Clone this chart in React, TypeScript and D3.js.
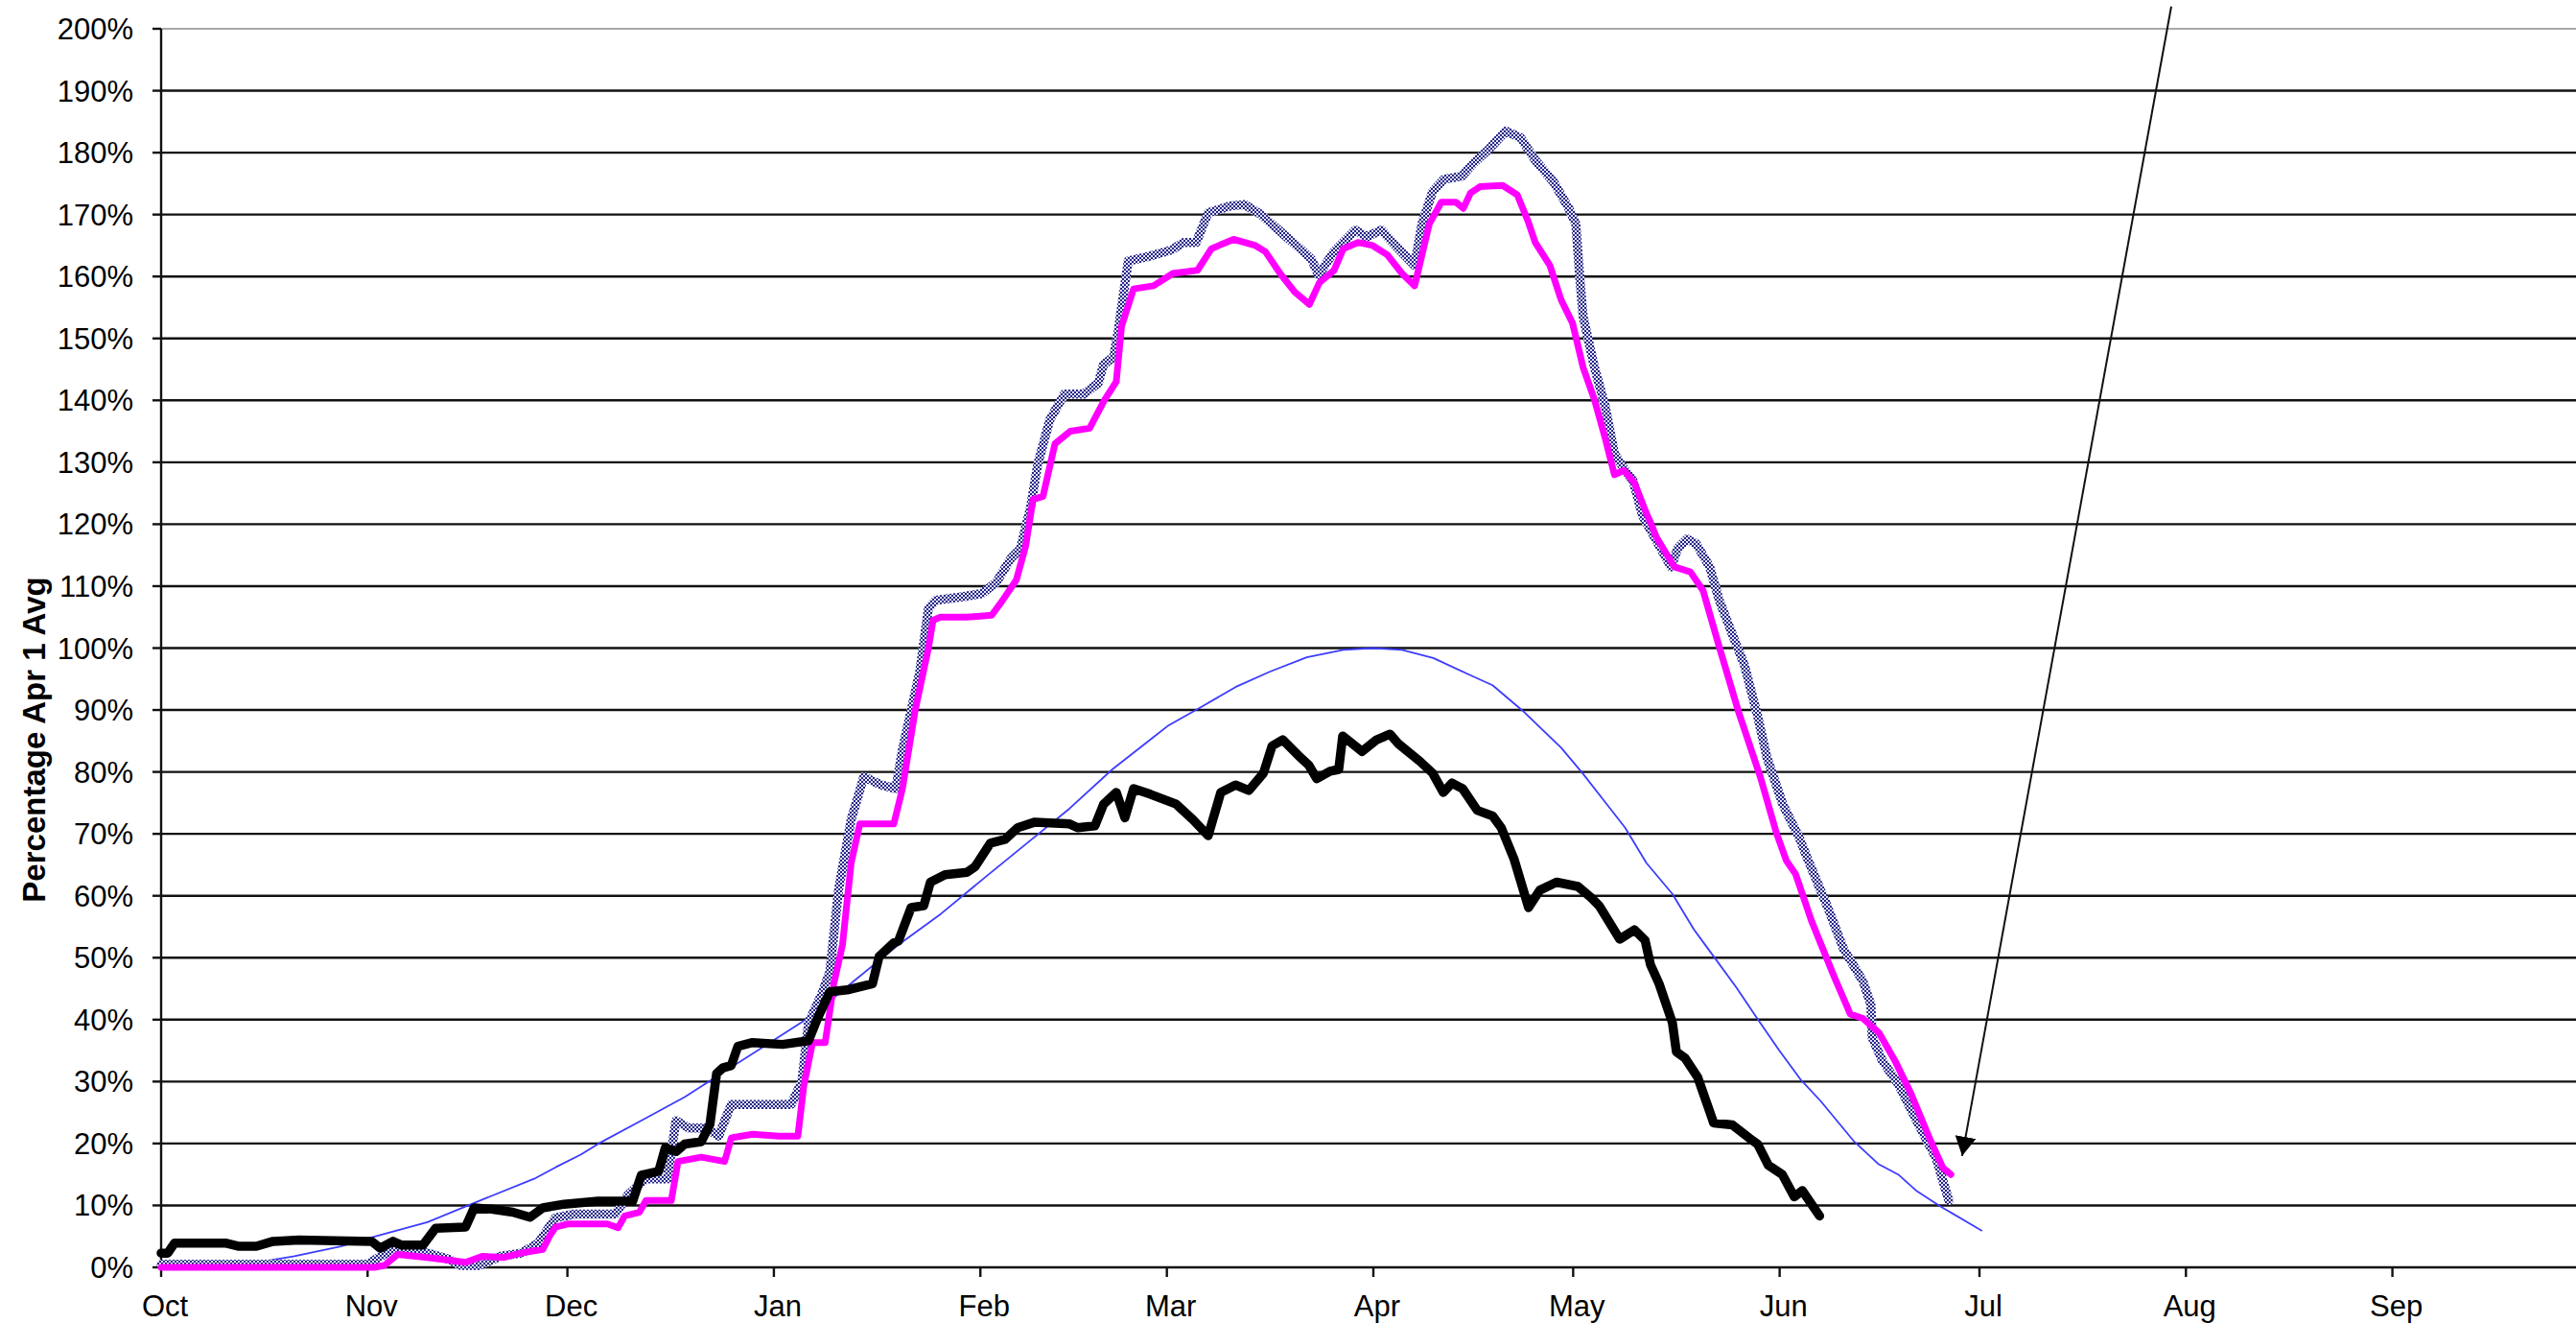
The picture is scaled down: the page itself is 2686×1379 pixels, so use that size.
import React from 'react';
import * as d3 from 'd3';

const WIDTH = 2686;
const HEIGHT = 1379;

// Month ticks: day offset from Oct 1
const monthLabels = ['Oct', 'Nov', 'Dec', 'Jan', 'Feb', 'Mar', 'Apr', 'May', 'Jun', 'Jul', 'Aug', 'Sep'];
const monthStartDays = [0, 31, 61, 92, 123, 151, 182, 212, 243, 273, 304, 335];
const yTickValues = d3.range(0, 201, 10);
const yAxisTitle = 'Percentage Apr 1 Avg';

// [day since Oct 1, percent of Apr 1 average]
const averageSeries: [number, number][] = [
  [0, 0], [10, 0.2], [15.5, 1], [20, 1.8], [27, 3.4], [32.2, 5], [40, 7.3], [47, 10.4], [56, 14.3], [59.3, 16.2],
  [63, 18.2], [65.7, 20], [72.1, 23.7], [78.6, 27.5], [85, 31.9], [91.4, 36.3], [97.8, 40.7], [104.2, 46.4],
  [110.7, 52.1], [117.1, 57.1], [123.5, 62.8], [130, 68.5], [136.4, 74.1], [142.8, 80.4], [148.5, 85.2],
  [151.1, 87.4], [156.2, 90.5], [161.3, 93.7], [166.5, 96.2], [172, 98.5], [177.5, 99.7], [182, 100],
  [186.3, 99.7], [191, 98.4], [196, 95.9], [199.9, 94], [204.4, 89.9], [210.2, 83.9], [213.4, 79.8],
  [216.6, 75.4], [219.8, 71], [223, 65.3], [226.9, 60.3], [230.1, 54.6], [233.3, 49.9], [236.5, 45.2],
  [239.7, 40.1], [242.9, 35.1], [246.1, 30.4], [249.2, 26.8], [254.2, 20.3], [257.8, 16.7], [260.8, 15],
  [263.6, 12.3], [267.2, 9.8], [273.4, 5.9],
];

const hatchedSeries: [number, number][] = [
  [0, 0.5], [31, 0.5], [32.2, 1.3], [34.8, 2.9], [40, 2.3], [43.2, 1.3], [45, 0.3], [47.7, 0.3], [50.9, 1.8],
  [54.1, 2.3], [56.6, 3.9], [59.2, 8], [62, 8.6], [68.2, 8.6], [70.1, 11.7], [72.8, 14.3], [76, 14.3],
  [77.3, 23.7], [79.2, 22.5], [81.8, 22.5], [83.7, 21.2], [85.6, 26.3], [88.2, 26.3], [94.6, 26.3],
  [96.2, 30], [97.2, 39.5], [99.1, 43.9], [100.4, 47.7], [101.7, 60.9], [103.6, 72.3], [105.5, 79.2],
  [108.1, 77.9], [110.3, 77.3], [111.3, 83.6], [112.6, 89.9], [113.9, 96.2], [115.2, 106.4], [116.3, 107.7],
  [120.3, 108.3], [123.2, 108.8], [125.4, 110.6], [127.6, 114.5], [129, 116], [130.5, 122.5], [131.6, 129.6],
  [133.4, 136.8], [135.6, 141], [138.5, 141], [140.7, 142.8], [141.5, 145.8], [143, 147], [143.7, 151.2],
  [145.2, 162.5], [148.8, 163.4], [151.7, 164.3], [153.5, 165.5], [155.4, 165.5], [157.2, 170.3],
  [160.5, 171.4], [162.7, 171.6], [165, 170.1], [167.8, 167.5], [171.1, 164.4], [172.7, 162.8],
  [173.8, 160.2], [176, 163.9], [179.3, 167.5], [181, 166.4], [183.2, 167.5], [185.4, 164.9], [188.2, 161.8],
  [189.3, 168.5], [190.9, 173.7], [192.6, 175.7], [195.3, 176.2], [197, 178.3], [199.2, 180.4],
  [201.9, 183.5], [204.1, 182.4], [206.3, 178.8], [209.1, 175.2], [211.3, 171.1], [212.4, 168.5],
  [213, 159.7], [213.5, 153.5], [215.2, 145.3], [216.8, 139.1], [218.2, 131.4], [219.6, 129], [221, 127],
  [222.4, 121.4], [226.7, 113.1], [227.7, 116.1], [229.1, 117.6], [230.5, 116.8], [232.5, 113.1],
  [233.9, 107.8], [236.3, 101.1], [237.7, 97.3], [239.7, 89], [241.1, 82.3], [243.5, 74.7], [245.9, 69.5],
  [247.3, 65.7], [250.2, 58.2], [252.6, 51.4], [255.5, 46.2], [256.7, 42.4], [256.9, 37.1], [258.4, 33.4],
  [260.8, 29.6], [263.6, 23.6], [266.5, 17.6], [268.4, 10.8],
];

const magentaSeries: [number, number][] = [
  [0, 0], [32, 0], [33.5, 0.3], [35.5, 2.1], [40, 1.6], [45.7, 0.8], [48.3, 1.8], [51.5, 1.6], [54, 2.3],
  [57.3, 2.9], [58.3, 5], [59.2, 6.5], [61, 7], [67, 7], [68.6, 6.4], [69.6, 8.3], [71.8, 8.9], [72.8, 10.8],
  [76.6, 10.8], [77.6, 17.1], [81.1, 17.8], [84.6, 17.1], [85.6, 20.9], [88.8, 21.5], [92.7, 21.2],
  [95.6, 21.2], [96.5, 29.4], [97.8, 36.3], [99.7, 36.3], [101, 45.8], [102.3, 52.1], [103.6, 65.3],
  [104.9, 71.6], [110, 71.6], [111.3, 77.3], [113.2, 89.9], [115.2, 100], [115.9, 104.5], [117, 105],
  [121, 105], [124.7, 105.3], [126.2, 107.5], [128.4, 111], [129.8, 116.5], [130.9, 124], [132.4, 124.5],
  [134.2, 133], [136.5, 135], [139.4, 135.5], [141.6, 140], [143.4, 143], [144.2, 152], [146, 158],
  [149, 158.5], [151.9, 160.5], [155.6, 161], [157.7, 164.5], [161, 166], [164.3, 165], [165.8, 164],
  [168, 160.5], [170.2, 157.5], [172.4, 155.5], [173.9, 159], [176.1, 161], [177.5, 164.5], [179.7, 165.5],
  [181.9, 165], [184.1, 163.5], [186.3, 160.5], [188.2, 158.5], [189.3, 163.5], [190.4, 168.5], [192.2, 172],
  [194.4, 172], [195.5, 171], [196.6, 173.5], [198, 174.5], [201.4, 174.7], [203.6, 173.2], [205.2, 169],
  [206.3, 165.5], [208.5, 161.8], [210.2, 156.2], [211.9, 152.5], [213.5, 145.3], [215.2, 140.1],
  [216.8, 133.9], [218.2, 128], [219.6, 128.7], [221.2, 126.7], [222.9, 122], [223.8, 119.8], [224.5, 117.9],
  [227.2, 113.1], [229.6, 112.3], [231.5, 109.3], [233.9, 100.3], [236.8, 89.8], [238.2, 85.3], [240.1, 79.2],
  [242.5, 70.2], [244, 65.7], [245.4, 63.5], [247.8, 55.9], [251.2, 46.9], [253.6, 40.9], [255.5, 40.2],
  [257.9, 37.9], [260.3, 33.4], [262.7, 28.1], [265.6, 20.6], [267.5, 16.1], [268.7, 15],
];

const blackSeries: [number, number][] = [
  [0, 2.3], [1, 2.3], [2, 3.9], [9.8, 3.9], [11.7, 3.4], [14.3, 3.4], [16.8, 4.2], [20.7, 4.4], [31.6, 4.2],
  [32.9, 3.1], [34.8, 4.2], [36.1, 3.6], [39.3, 3.6], [41.2, 6.3], [45.7, 6.5], [47, 9.6], [49.6, 9.4],
  [52.8, 8.9], [55.4, 8.1], [57.3, 9.6], [60.5, 10.2], [65.6, 10.7], [70.8, 10.7], [72.1, 14.9], [74.7, 15.5],
  [75.7, 19.3], [77.3, 18.7], [78.6, 19.9], [81.1, 20.3], [82.4, 23.1], [83.4, 31.3], [84.3, 32.2],
  [85.6, 32.6], [86.6, 35.7], [88.8, 36.3], [93.3, 36], [97.2, 36.6], [98.5, 40.1], [100.4, 44.5], [103, 44.8],
  [106.8, 45.8], [107.8, 50.2], [110, 52.4], [110.7, 52.7], [112.6, 58.1], [114.5, 58.4], [115.5, 62.2],
  [117.7, 63.4], [121, 63.8], [122.2, 64.7], [124.5, 68.5], [126.7, 69.1], [128.6, 71], [131.2, 71.9],
  [136.4, 71.6], [137.6, 71], [140.2, 71.3], [141.5, 74.8], [143.4, 76.7], [144.7, 72.6], [146, 77.3],
  [148.5, 76.4], [152.4, 74.8], [154.9, 72.3], [157.2, 69.7], [159.1, 76.7], [161.3, 77.9], [163.3, 77],
  [165.5, 79.8], [166.8, 84.2], [168.4, 85.2], [170.7, 82.7], [172.3, 81.1], [173.5, 78.9], [175.5, 80.1],
  [176.8, 80.4], [177.4, 85.8], [180.3, 83.3], [182.5, 85.2], [184.5, 86.1], [185.8, 84.5], [189, 81.7],
  [190.9, 79.8], [192.5, 76.7], [193.8, 78.2], [195.4, 77.3], [197.6, 73.8], [199.9, 72.9], [201.2, 71],
  [203.1, 66], [205.3, 58.1], [207, 60.9], [209.5, 62.2], [212.7, 61.5], [214.7, 59.7], [215.9, 58.4],
  [219, 53], [221.2, 54.5], [222.8, 52.8], [223.6, 48.9], [224.9, 45.8], [226.9, 39.5], [227.5, 34.8],
  [228.8, 33.8], [230.7, 30.7], [233.1, 23.3], [235.9, 23], [238.4, 20.9], [239.7, 19.9], [241.3, 16.5],
  [243.4, 15], [245.2, 11.4], [246.4, 12.4], [249, 8.3],
];

// Arrow annotation in data units [day, percent]
const arrowFrom: [number, number] = [301.8, 203.6];
const arrowTo: [number, number] = [270.4, 18.0];

const FONT = '"Liberation Sans", Arial, Helvetica, sans-serif';

export default function App() {
  React.useEffect(() => {
    document.body.style.margin = '0';
  }, []);

  const x = d3.scaleLinear().domain([0, 365]).range([168, 168 + 365 * 6.945]);
  const y = d3.scaleLinear().domain([0, 200]).range([1321, 30]);
  const line = d3
    .line<[number, number]>()
    .x((d) => x(d[0]))
    .y((d) => y(d[1]));

  const plotLeft = x(0);
  const plotRight = WIDTH;

  return (
    <svg
      width={WIDTH}
      height={HEIGHT}
      style={{ position: 'absolute', left: 0, top: 0, background: '#fff', display: 'block' }}
      fontFamily={FONT}
    >
      <defs>
        <pattern id="hatch" patternUnits="userSpaceOnUse" width={4} height={4}>
          <rect x={0} y={0} width={4} height={4} fill="#e4e4f6" />
          <rect x={0} y={0} width={2} height={2} fill="#262686" />
          <rect x={2} y={2} width={2} height={2} fill="#262686" />
        </pattern>
        <marker
          id="arrowHead"
          viewBox="0 0 20 22"
          refX={20}
          refY={11}
          markerWidth={20}
          markerHeight={22}
          markerUnits="userSpaceOnUse"
          orient="auto"
        >
          <path d="M0,0 L20,11 L0,22 Z" fill="#000" />
        </marker>
      </defs>
      <rect x={0} y={0} width={WIDTH} height={HEIGHT} fill="#fff" />

      {/* gridlines */}
      {yTickValues.map((v) => (
        <line
          key={`g${v}`}
          x1={plotLeft}
          x2={plotRight}
          y1={y(v)}
          y2={y(v)}
          stroke={v === 200 ? '#a8a8a8' : '#111'}
          strokeWidth={v === 200 ? 2 : 2.4}
        />
      ))}

      {/* y axis */}
      <line x1={plotLeft} x2={plotLeft} y1={y(200)} y2={y(0)} stroke="#111" strokeWidth={2.4} />
      {yTickValues.map((v) => (
        <g key={`yt${v}`}>
          <line x1={plotLeft - 9} x2={plotLeft} y1={y(v)} y2={y(v)} stroke="#111" strokeWidth={2.4} />
          <text x={139} y={y(v) + 11} textAnchor="end" fontSize={31} fill="#000">
            {`${v}%`}
          </text>
        </g>
      ))}

      {/* x axis ticks */}
      {monthStartDays.map((d, i) => (
        <g key={`xt${i}`}>
          <line x1={x(d)} x2={x(d)} y1={y(0)} y2={y(0) + 10} stroke="#111" strokeWidth={2.4} />
          <text x={x(d) + 4} y={1372} textAnchor="middle" fontSize={31} fill="#000">
            {monthLabels[i]}
          </text>
        </g>
      ))}

      {/* y axis title */}
      <text
        transform={`translate(35, 771) rotate(-90)`}
        textAnchor="middle"
        dominantBaseline="central"
        fontSize={33}
        fontWeight="bold"
        fill="#000"
      >
        {yAxisTitle}
      </text>

      {/* series */}
      <path d={line(averageSeries) || ''} fill="none" stroke="#3c3cff" strokeWidth={1.8} strokeLinejoin="round" />
      <path d={line(hatchedSeries) || ''} fill="none" stroke="url(#hatch)" strokeWidth={9.5} strokeLinejoin="round" strokeLinecap="round" />
      <path d={line(magentaSeries) || ''} fill="none" stroke="#ff00ff" strokeWidth={7} strokeLinejoin="round" strokeLinecap="round" />
      <path d={line(blackSeries) || ''} fill="none" stroke="#000" strokeWidth={9.5} strokeLinejoin="round" strokeLinecap="round" />

      {/* arrow annotation */}
      <line
        x1={x(arrowFrom[0])}
        y1={y(arrowFrom[1])}
        x2={x(arrowTo[0])}
        y2={y(arrowTo[1])}
        stroke="#111"
        strokeWidth={2}
        markerEnd="url(#arrowHead)"
      />
    </svg>
  );
}
